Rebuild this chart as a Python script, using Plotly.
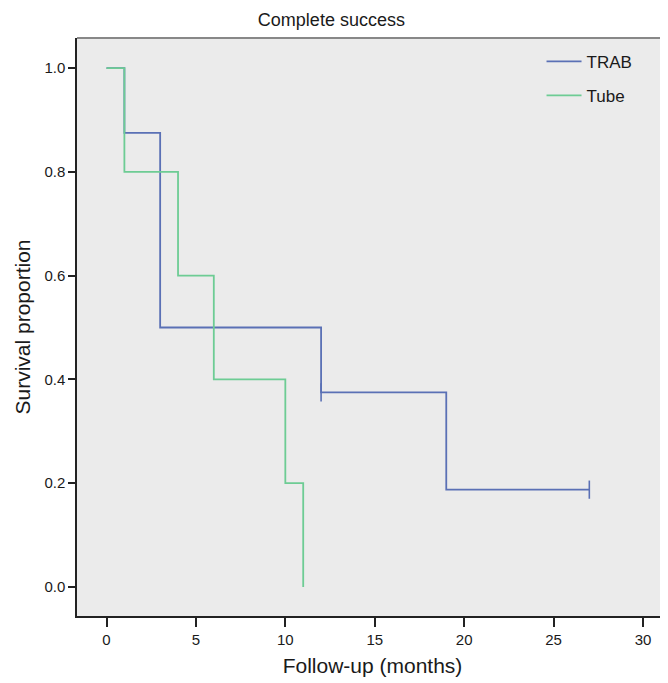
import plotly.graph_objects as go

trab_t = [0, 1, 3, 12, 19, 27]
trab_s = [1.0, 0.875, 0.5, 0.375, 0.1875, 0.1875]
trab_cens_t = [12, 27]
trab_cens_s = [0.375, 0.1875]

tube_t = [0, 1, 4, 6, 10, 11]
tube_s = [1.0, 0.8, 0.6, 0.4, 0.2, 0.0]

x_ticks = [0, 5, 10, 15, 20, 25, 30]
y_ticks = [0.0, 0.2, 0.4, 0.6, 0.8, 1.0]

BLUE = "#5a70b5"
GREEN = "#6dcc94"

fig = go.Figure()
fig.add_trace(go.Scatter(x=trab_t, y=trab_s, mode="lines", line=dict(color=BLUE, width=1.8, shape="hv"),
                         name="TRAB", legendgroup="a"))
fig.add_trace(go.Scatter(x=trab_cens_t, y=trab_cens_s, mode="markers",
                         marker=dict(symbol="line-ns", size=13, line=dict(color=BLUE, width=1.6)),
                         showlegend=False, legendgroup="a"))
fig.add_trace(go.Scatter(x=tube_t, y=tube_s, mode="lines", line=dict(color=GREEN, width=1.8, shape="hv"),
                         name="Tube", legendgroup="b"))

fig.update_layout(
    width=660, height=675,
    margin=dict(l=69, r=0, t=30, b=67, autoexpand=False),
    paper_bgcolor="white", plot_bgcolor="#ebebeb",
    font=dict(family="Liberation Sans, Arial, sans-serif", color="#1a1a1a"),
    title=dict(text="Complete success", x=0.49, xanchor="center", y=0.982, yanchor="middle",
               font=dict(size=18, color="#1a1a1a")),
    showlegend=True,
    legend=dict(x=0.786, y=0.99, xanchor="left", yanchor="top", bgcolor="rgba(0,0,0,0)",
                font=dict(size=17), tracegroupgap=9, itemwidth=35),
    xaxis=dict(range=[-1.65, 31.4], tickvals=x_ticks, ticktext=[str(v) for v in x_ticks],
               automargin=False,
               showgrid=False, zeroline=False, showline=True, linecolor="#222222", linewidth=1.5,
               ticks="outside", ticklen=9, tickwidth=1.5, tickcolor="#222222",
               tickfont=dict(size=15), title=dict(text="Follow-up (months)", font=dict(size=21), standoff=12)),
    yaxis=dict(range=[-0.056, 1.058], tickvals=y_ticks, ticktext=[f"{v:.1f}" for v in y_ticks],
               automargin=False,
               showgrid=False, zeroline=False, showline=True, linecolor="#222222", linewidth=1.5,
               ticks="outside", ticklen=7, tickwidth=1.5, tickcolor="#222222",
               tickfont=dict(size=15), title=dict(text="Survival proportion", font=dict(size=21), standoff=8)),
)
fig.add_shape(type="line", xref="paper", yref="paper", x0=0, x1=1, y0=1, y1=1,
              line=dict(color="#888888", width=2))

fig.write_html("out.html")
